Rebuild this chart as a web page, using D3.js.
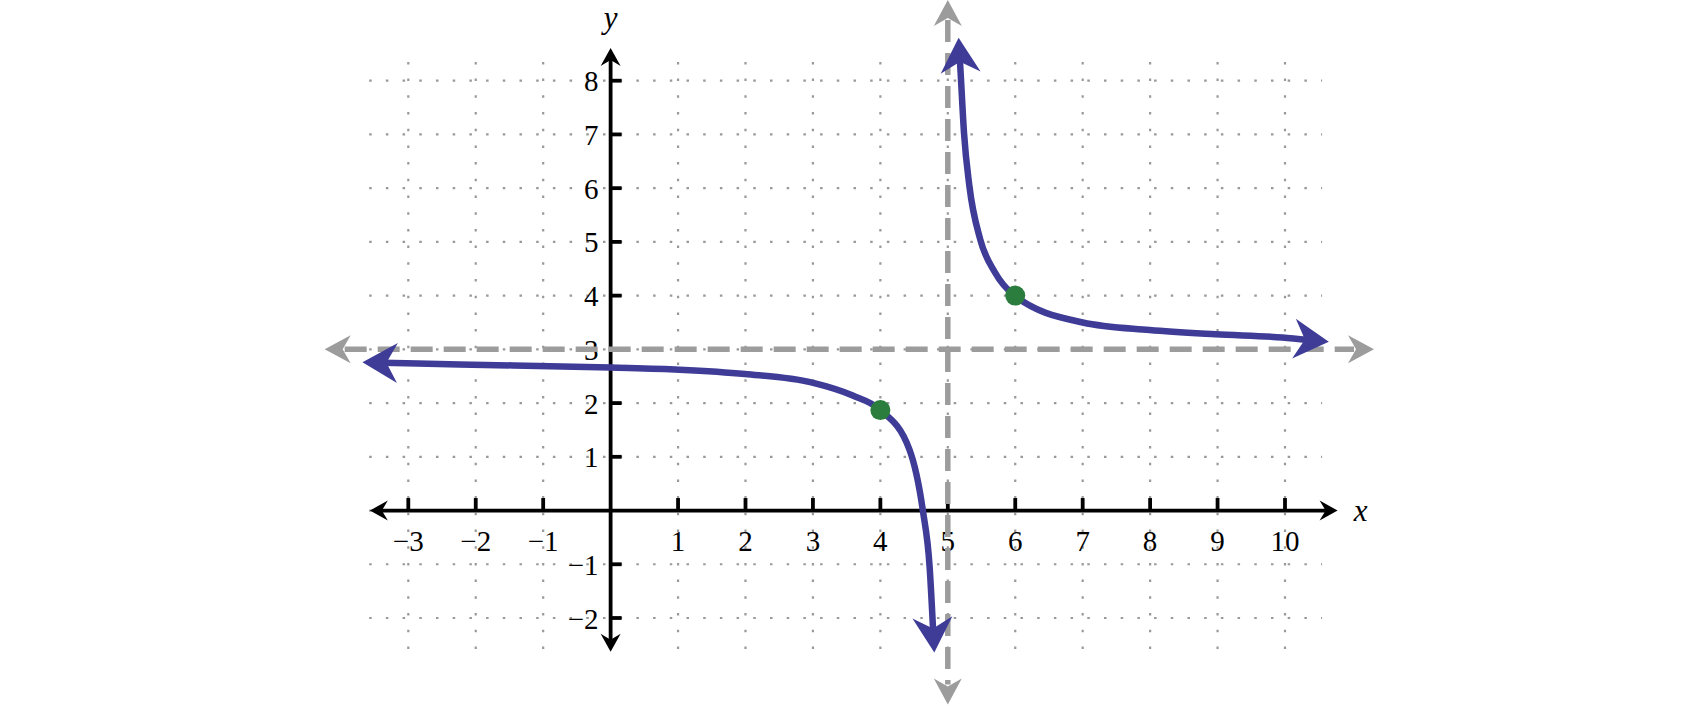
<!DOCTYPE html>
<meta charset="utf-8">
<style>
body { margin: 0; background: #fff; }
.tick-label { font: 29px "Liberation Serif", "Times New Roman", serif; fill: #000; }
.axis-name { font: italic 31px "Liberation Serif", "Times New Roman", serif; fill: #000; }
</style>
<svg width="1700" height="706"></svg>
<script src="https://cdn.jsdelivr.net/npm/d3@7"></script>
<script>

// ticks and grid
var xTicks = [-3, -2, -1, 1, 2, 3, 4, 5, 6, 7, 8, 9, 10];
var yTicks = [-2, -1, 1, 2, 3, 4, 5, 6, 7, 8];
var xGrid = [-3, -2, -1, 0, 1, 2, 3, 4, 5, 6, 7, 8, 9, 10];
var yGrid = [-2, -1, 0, 1, 2, 3, 4, 5, 6, 7, 8];
var xGridExtent = [-3.58, 10.55];
var yGridExtent = [-2.75, 8.35];
var xAxisExtent = [-3.57, 10.78];
var yAxisExtent = [-2.63, 8.61];

// asymptotes x = 5 and y = 3
var vAsymptote = 5, vAsymptoteExtent = [-3.61, 9.5];
var hAsymptote = 3, hAsymptoteExtent = [-4.24, 11.32];

// the two branches (ends are the arrow tips)
var leftBranch = [[-3.68, 2.76], [-2.24, 2.72], [0, 2.66], [1.02, 2.62], [1.99, 2.54],
  [2.99, 2.38], [3.59, 2.14], [3.99, 1.88], [4.43, 1.14], [4.63, 0], [4.73, -1.04], [4.8, -2.64]];
var rightBranch = [[5.16, 8.8], [5.19, 8.15], [5.24, 7.03], [5.32, 6.04], [5.48, 5.05],
  [5.7, 4.43], [5.99, 4.0], [7.0, 3.5], [7.99, 3.36], [8.97, 3.28], [9.96, 3.22], [10.65, 3.14]];
var points = [[4, 1.87], [6, 4]];

var svg = d3.select("svg");

var x = d3.scaleLinear().domain([-3, 10]).range([408.3, 1285]);
var y = d3.scaleLinear().domain([-2, 8]).range([618, 80.7]);

var blue = "#3e3c97", gray = "#9c9c9c", green = "#2a7d3c";

// arrow head polygon with its tip at p, pointing away from q
function head(p, q, len, half, notch) {
  var dx = p[0] - q[0], dy = p[1] - q[1], l = Math.sqrt(dx * dx + dy * dy);
  dx /= l; dy /= l;
  var px = -dy, py = dx;
  return "M" + p[0] + "," + p[1] +
    "L" + (p[0] - dx * len + px * half) + "," + (p[1] - dy * len + py * half) +
    "L" + (p[0] - dx * notch) + "," + (p[1] - dy * notch) +
    "L" + (p[0] - dx * len - px * half) + "," + (p[1] - dy * len - py * half) + "Z";
}
function pull(p, q, d) {
  var dx = p[0] - q[0], dy = p[1] - q[1], l = Math.sqrt(dx * dx + dy * dy);
  return [p[0] - dx / l * d, p[1] - dy / l * d];
}

// grid
var grid = svg.append("g")
    .attr("stroke", "#999")
    .attr("stroke-width", 2.2)
    .attr("stroke-dasharray", "2.5,14.2");
grid.selectAll(".gx").data(xGrid).enter().append("line")
    .attr("x1", function(d) { return x(d); }).attr("x2", function(d) { return x(d); })
    .attr("y1", y(yGridExtent[1])).attr("y2", y(yGridExtent[0]));
grid.selectAll(".gy").data(yGrid).enter().append("line")
    .attr("y1", function(d) { return y(d); }).attr("y2", function(d) { return y(d); })
    .attr("x1", x(xGridExtent[0])).attr("x2", x(xGridExtent[1]));

// axes
var axes = svg.append("g");
var ax = [[x(xAxisExtent[0]), y(0)], [x(xAxisExtent[1]), y(0)]];
var ay = [[x(0), y(yAxisExtent[1])], [x(0), y(yAxisExtent[0])]];
axes.append("line").attr("x1", ax[0][0] + 10).attr("x2", ax[1][0] - 10)
    .attr("y1", ax[0][1]).attr("y2", ax[1][1]).attr("stroke", "#000").attr("stroke-width", 3.8);
axes.append("line").attr("y1", ay[0][1] + 10).attr("y2", ay[1][1] - 10)
    .attr("x1", ay[0][0]).attr("x2", ay[1][0]).attr("stroke", "#000").attr("stroke-width", 3.8);
axes.append("path").attr("d", head(ax[0], ax[1], 18, 10, 12));
axes.append("path").attr("d", head(ax[1], ax[0], 18, 10, 12));
axes.append("path").attr("d", head(ay[0], ay[1], 18, 10, 12));
axes.append("path").attr("d", head(ay[1], ay[0], 18, 10, 12));

axes.selectAll(".tx").data(xTicks).enter().append("line")
    .attr("x1", function(d) { return x(d); }).attr("x2", function(d) { return x(d); })
    .attr("y1", y(0)).attr("y2", y(0) - 12.5)
    .attr("stroke", "#000").attr("stroke-width", 3.8);
axes.selectAll(".ty").data(yTicks).enter().append("line")
    .attr("y1", function(d) { return y(d); }).attr("y2", function(d) { return y(d); })
    .attr("x1", x(0)).attr("x2", x(0) + 11)
    .attr("stroke", "#000").attr("stroke-width", 3.8);

function fmt(d) { return d < 0 ? "\u2212" + (-d) : String(d); }

axes.selectAll(".lx").data(xTicks).enter().append("text")
    .attr("class", "tick-label")
    .attr("x", function(d) { return x(d); })
    .attr("y", y(0) + 40)
    .attr("text-anchor", "middle")
    .text(fmt);
axes.selectAll(".ly").data(yTicks).enter().append("text")
    .attr("class", "tick-label")
    .attr("x", x(0) - 12)
    .attr("y", function(d) { return y(d) + 10.5; })
    .attr("text-anchor", "end")
    .text(fmt);

axes.append("text").attr("class", "axis-name")
    .attr("x", ax[1][0] + 23).attr("y", y(0) + 10)
    .attr("text-anchor", "middle").text("x");
axes.append("text").attr("class", "axis-name")
    .attr("x", x(0)).attr("y", ay[0][1] - 20)
    .attr("text-anchor", "middle").text("y");

// asymptotes
var asy = svg.append("g");
var va = [[x(vAsymptote), y(vAsymptoteExtent[1])], [x(vAsymptote), y(vAsymptoteExtent[0])]];
var ha = [[x(hAsymptoteExtent[0]), y(hAsymptote)], [x(hAsymptoteExtent[1]), y(hAsymptote)]];
[va, ha].forEach(function(s) {
  var a = pull(s[0], s[1], 20), b = pull(s[1], s[0], 20);
  asy.append("line")
      .attr("x1", a[0]).attr("y1", a[1]).attr("x2", b[0]).attr("y2", b[1])
      .attr("stroke", gray).attr("stroke-width", 5.5)
      .attr("stroke-dasharray", "22,11");
  asy.append("path").attr("d", head(s[0], s[1], 26, 14, 18)).attr("fill", gray);
  asy.append("path").attr("d", head(s[1], s[0], 26, 14, 18)).attr("fill", gray);
});

// curve branches
var line = d3.line().curve(d3.curveMonotoneX);
[leftBranch, rightBranch].forEach(function(br) {
  var pts = br.map(function(d) { return [x(d[0]), y(d[1])]; });
  var n = pts.length;
  var first = pts[0], last = pts[n - 1];
  var trimmed = pts.slice();
  trimmed[0] = pull(first, pts[1], 20);
  trimmed[n - 1] = pull(last, pts[n - 2], 20);
  svg.append("path").attr("d", line(trimmed))
      .attr("fill", "none").attr("stroke", blue).attr("stroke-width", 6.5);
  svg.append("path").attr("d", head(first, pts[1], 35, 20, 24)).attr("fill", blue);
  svg.append("path").attr("d", head(last, pts[n - 2], 35, 20, 24)).attr("fill", blue);
});

svg.selectAll(".pt").data(points).enter().append("circle")
    .attr("cx", function(d) { return x(d[0]); })
    .attr("cy", function(d) { return y(d[1]); })
    .attr("r", 10)
    .attr("fill", green);

</script>
